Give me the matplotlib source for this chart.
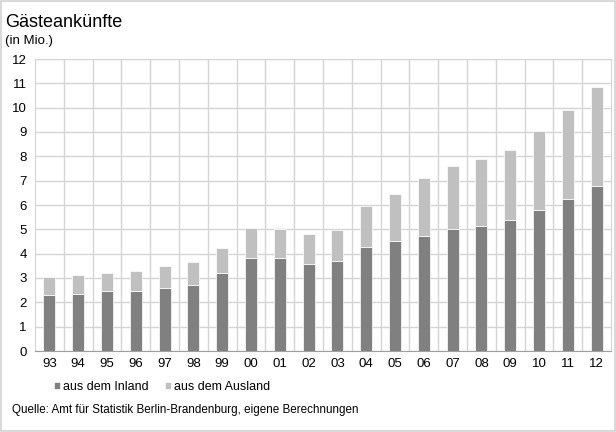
import matplotlib
matplotlib.use('Agg')
import matplotlib.pyplot as plt
from matplotlib.patches import Rectangle

jahre = ['93', '94', '95', '96', '97', '98', '99', '00', '01', '02',
         '03', '04', '05', '06', '07', '08', '09', '10', '11', '12']
inland = [2.31, 2.36, 2.48, 2.48, 2.60, 2.70, 3.22, 3.81, 3.81, 3.58,
          3.71, 4.27, 4.51, 4.73, 5.01, 5.14, 5.40, 5.80, 6.26, 6.78]
gesamt = [3.03, 3.12, 3.22, 3.27, 3.49, 3.64, 4.25, 5.07, 5.01, 4.79,
          4.99, 5.95, 6.45, 7.11, 7.62, 7.89, 8.26, 9.05, 9.89, 10.85]
ausland = [g - i for g, i in zip(gesamt, inland)]

plt.rcParams['font.family'] = ['Liberation Sans', 'DejaVu Sans']

fig = plt.figure(figsize=(6.16, 4.32), dpi=100)
ax = fig.add_axes([35/616, 81/432, 576/616, 292/432])

x = list(range(len(jahre)))
b1 = ax.bar(x, inland, width=0.42, color='#808080', edgecolor='white', linewidth=0.5,
            label='aus dem Inland', zorder=3)
b2 = ax.bar(x, ausland, bottom=inland, width=0.42, color='#c0c0c0', edgecolor='white',
            linewidth=0.5, label='aus dem Ausland', zorder=3)

ax.set_xlim(-0.5, len(jahre) - 0.5)
ax.set_ylim(0, 12)
ax.set_yticks(range(0, 13))
ax.set_xticks(x)
ax.set_xticklabels(jahre)
ax.set_xticks([i + 0.5 for i in x[:-1]], minor=True)
ax.grid(axis='y', color='#d4d4d4', linewidth=1, zorder=0)
ax.grid(axis='x', which='minor', color='#d4d4d4', linewidth=1, zorder=0)
ax.tick_params(which='both', length=0, labelsize=9.5, colors='black')
ax.tick_params(axis='y', pad=6)
ax.tick_params(axis='x', pad=5)
for s in ['left', 'right', 'top']:
    ax.spines[s].set_color('#d4d4d4')
ax.spines['bottom'].set_color('#a0a0a0')

fig.text(5/616, 1 - 27/432, 'Gästeankünfte', fontsize=13, ha='left', va='baseline')
fig.text(5/616, 1 - 44/432, '(in Mio.)', fontsize=9.5, ha='left', va='baseline')

fig.legend(handles=[b1, b2], loc='center left', bbox_to_anchor=(45/616, 1 - 387/432),
           ncol=2, frameon=False, fontsize=9, handlelength=0.5, handleheight=0.5,
           handletextpad=0.25, columnspacing=1.3, borderpad=0.2)
fig.text(12/616, 1 - 410/432, 'Quelle: Amt für Statistik Berlin-Brandenburg, eigene Berechnungen',
         fontsize=8.4, ha='left', va='center')

fig.patches.append(Rectangle((0, 0), 1, 1, transform=fig.transFigure, fill=False,
                             edgecolor='#d9d9d9', linewidth=3))

fig.savefig('out.png', dpi=100)
